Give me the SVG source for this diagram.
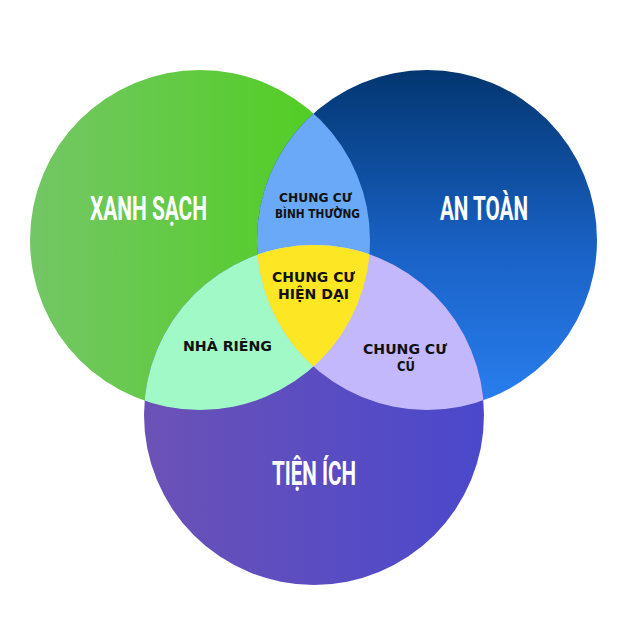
<svg xmlns="http://www.w3.org/2000/svg" width="640" height="620" viewBox="0 0 640 620">
<defs>
<linearGradient id="gGreen" x1="0" y1="0" x2="1" y2="0"><stop offset="0" stop-color="#74c666"/><stop offset="1" stop-color="#4ccf18"/></linearGradient>
<linearGradient id="gBlue" x1="0" y1="0" x2="0" y2="1"><stop offset="0" stop-color="#023670"/><stop offset="0.55" stop-color="#1a63c8"/><stop offset="1" stop-color="#2a7ff0"/></linearGradient>
<linearGradient id="gPurple" x1="0" y1="0" x2="1" y2="0"><stop offset="0" stop-color="#6b52b6"/><stop offset="1" stop-color="#4b48cc"/></linearGradient>
<clipPath id="cGreen"><circle cx="200" cy="240" r="170"/></clipPath>
<clipPath id="cBlue"><circle cx="427" cy="240" r="170"/></clipPath>
<style>
.big{font-family:Roboto,"Liberation Sans",sans-serif;font-weight:700;fill:#ffffff;text-anchor:middle}
.small{font-family:"DejaVu Sans","Liberation Sans",sans-serif;font-weight:700;fill:#111111;text-anchor:middle}
</style>
</defs>
<g id="circle-xanh-sach">
<circle cx="200" cy="240" r="170" fill="url(#gGreen)"/>
</g>
<g id="circle-an-toan">
<circle cx="427" cy="240" r="170" fill="url(#gBlue)"/>
</g>
<g id="circle-tien-ich">
<circle cx="314" cy="415" r="170" fill="url(#gPurple)"/>
</g>
<g id="region-binh-thuong">
<circle cx="427" cy="240" r="170" fill="#6aa9f8" clip-path="url(#cGreen)"/>
</g>
<g id="region-nha-rieng">
<circle cx="314" cy="415" r="170" fill="#a0f9c6" clip-path="url(#cGreen)"/>
</g>
<g id="region-cu">
<circle cx="314" cy="415" r="170" fill="#c3b8fb" clip-path="url(#cBlue)"/>
</g>
<g id="region-hien-dai">
<g clip-path="url(#cBlue)"><circle cx="314" cy="415" r="170" fill="#fde724" clip-path="url(#cGreen)"/></g>
</g>
<g id="labels">
<text class="big" x="148.5" y="220" font-size="33" textLength="117" lengthAdjust="spacingAndGlyphs">XANH SẠCH</text>
<text class="big" x="484" y="220" font-size="33" textLength="88" lengthAdjust="spacingAndGlyphs">AN TOÀN</text>
<text class="big" x="314" y="485" font-size="33" textLength="84" lengthAdjust="spacingAndGlyphs">TIỆN ÍCH</text>
<text class="small" x="315.5" y="202" font-size="12" textLength="73" lengthAdjust="spacingAndGlyphs">CHUNG CƯ</text>
<text class="small" x="317.5" y="217.5" font-size="12" textLength="85" lengthAdjust="spacingAndGlyphs">BÌNH THƯỜNG</text>
<text class="small" x="313.5" y="281.5" font-size="14" textLength="83" lengthAdjust="spacingAndGlyphs">CHUNG CƯ</text>
<text class="small" x="313.5" y="299" font-size="14" textLength="71" lengthAdjust="spacingAndGlyphs">HIỆN DẠI</text>
<text class="small" x="227.5" y="350.5" font-size="14" textLength="89" lengthAdjust="spacingAndGlyphs">NHÀ RIÊNG</text>
<text class="small" x="405" y="354" font-size="14" textLength="84" lengthAdjust="spacingAndGlyphs">CHUNG CƯ</text>
<text class="small" x="406" y="370.5" font-size="14" textLength="18" lengthAdjust="spacingAndGlyphs">CŨ</text>
</g>
</svg>
